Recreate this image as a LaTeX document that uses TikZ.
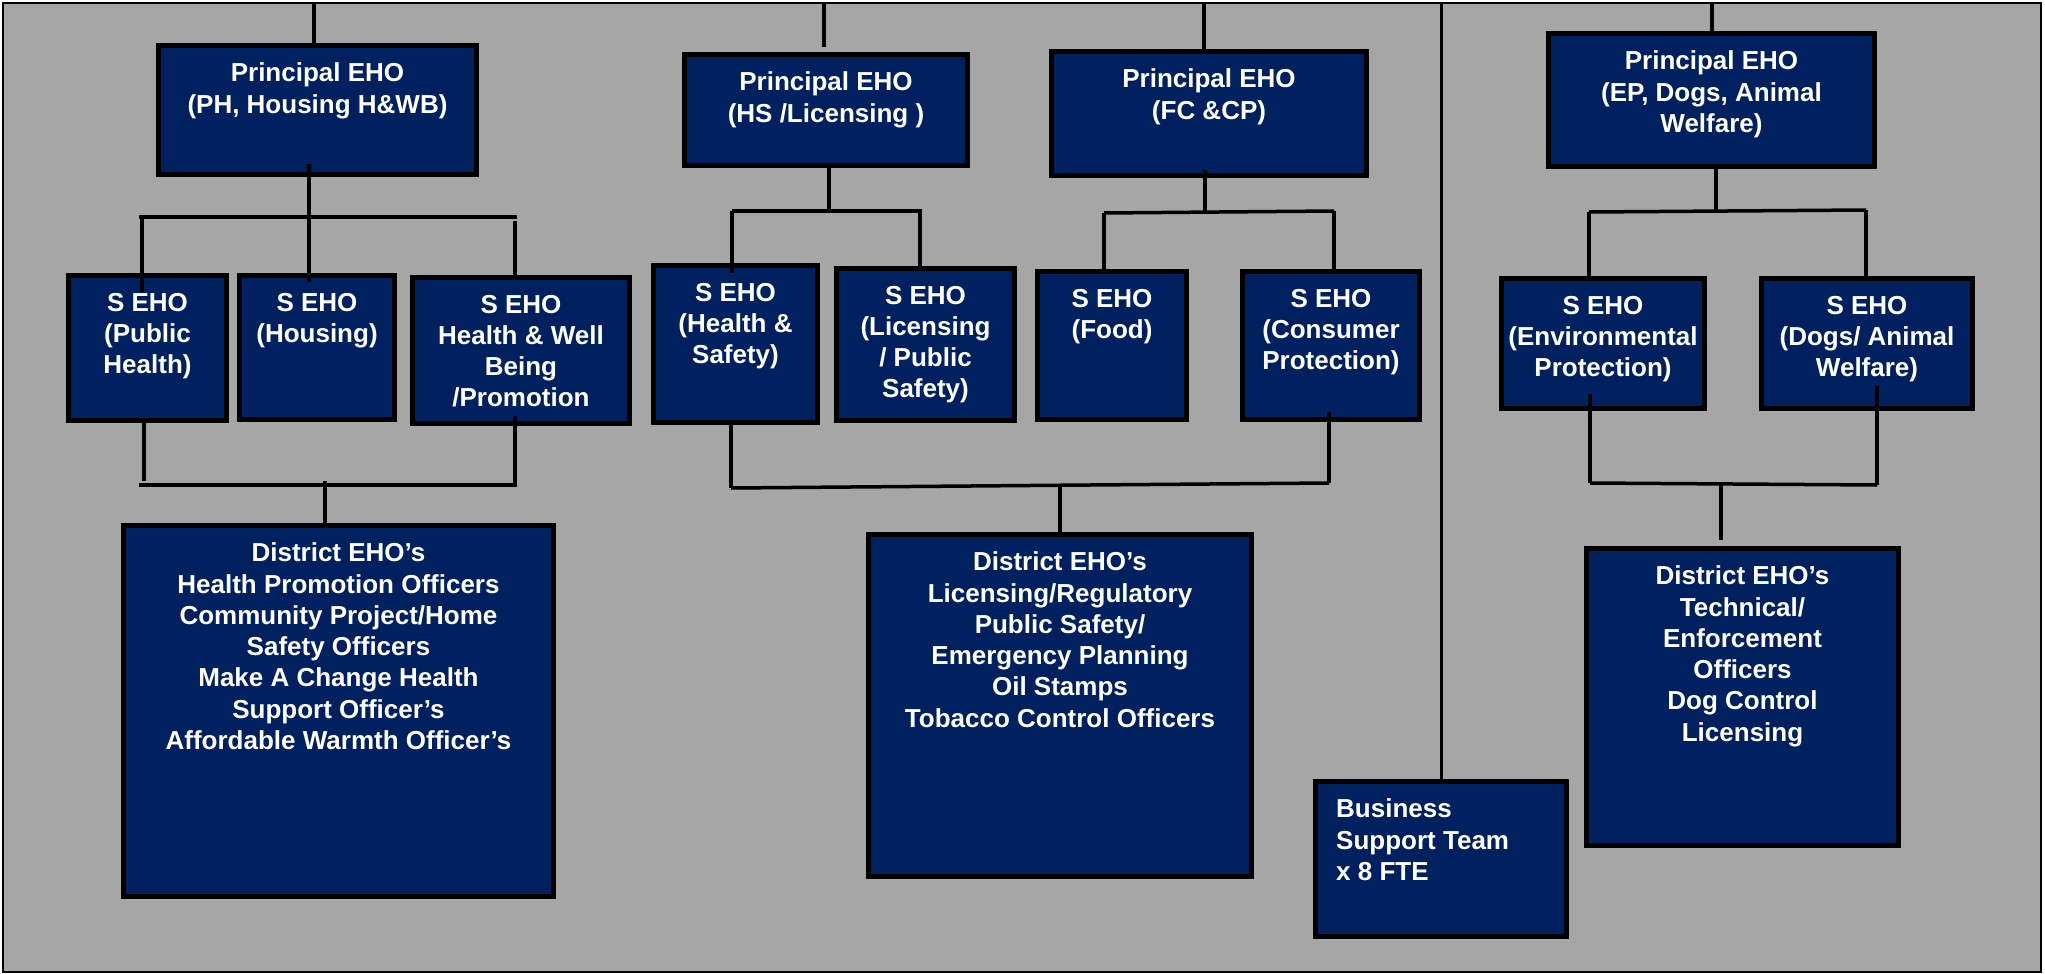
\documentclass[tikz,border=0pt]{standalone}
\usepackage{fontspec}
\setmainfont{Liberation Sans}
\usetikzlibrary{fit,calc}
\definecolor{panel}{HTML}{A6A6A6}
\definecolor{navy}{HTML}{002060}
% box from outer corner (x1,y1) to (x2,y2), border drawn inside
\newcommand\orgbox[5]{\node[box, fit={(#2+2.5,#3+2.5) (#4-2.5,#5-2.5)}] (#1) {};}
\begin{document}
\begin{tikzpicture}[x=1pt,y=-1pt,
  box/.style={draw=black, fill=navy, line width=5pt, inner sep=0pt, outer sep=0pt},
  txt/.style={text=white, font=\bfseries\fontsize{26}{31.3}\selectfont, align=center, inner sep=0pt, anchor=north},
  conn/.style={draw=black, line width=3.5pt}]
\useasboundingbox (0,0) rectangle (2045,974);
\draw[fill=panel, line width=2.5pt] (3,3) rectangle (2041,972);

% principal officers
\orgbox{p1}{156}{43}{479}{177}
\orgbox{p2}{682}{52}{970}{168}
\orgbox{p3}{1049}{49}{1369}{178}
\orgbox{p4}{1546}{31}{1877}{169}
% senior officers
\orgbox{s1}{66}{273}{229}{423}
\orgbox{s2}{237}{273}{397}{422}
\orgbox{s3}{410}{275}{632}{426}
\orgbox{s4}{651}{263}{820}{425}
\orgbox{s5}{834}{266}{1017}{423}
\orgbox{s6}{1035}{269}{1189}{422}
\orgbox{s7}{1240}{269}{1422}{422}
\orgbox{s8}{1499}{276}{1707}{411}
\orgbox{s9}{1759}{276}{1975}{411}
% district teams
\orgbox{d1}{121}{523}{556}{899}
\orgbox{d2}{866}{532}{1254}{879}
\orgbox{d3}{1584}{546}{1901}{848}
\orgbox{bs}{1313}{779}{1569}{939}

\node[txt] (p1t) at ([yshift=-17.2pt]p1.north) {Principal EHO\\(PH, Housing H\&WB)};
\node[txt] (p2t) at ([yshift=-17.2pt]p2.north) {Principal EHO\\(HS /Licensing )};
\node[txt] (p3t) at ([yshift=-17.2pt]p3.north) {Principal EHO\\(FC \&CP)};
\node[txt] (p4t) at ([yshift=-17.2pt]p4.north) {Principal EHO\\(EP, Dogs, Animal\\Welfare)};

\node[txt] (s1t) at ([yshift=-17.2pt]s1.north) {S EHO\\(Public\\Health)};
\node[txt] (s2t) at ([yshift=-17.2pt]s2.north) {S EHO\\(Housing)};
\node[txt] (s3t) at ([yshift=-17.2pt]s3.north) {S EHO\\Health \& Well\\Being\\/Promotion};
\node[txt] (s4t) at ([yshift=-17.2pt]s4.north) {S EHO\\(Health \&\\Safety)};
\node[txt] (s5t) at ([yshift=-17.2pt]s5.north) {S EHO\\(Licensing\\/ Public\\Safety)};
\node[txt] (s6t) at ([yshift=-17.2pt]s6.north) {S EHO\\(Food)};
\node[txt] (s7t) at ([yshift=-17.2pt]s7.north) {S EHO\\(Consumer\\Protection)};
\node[txt] (s8t) at ([yshift=-17.2pt]s8.north) {S EHO\\(Environmental\\Protection)};
\node[txt] (s9t) at ([yshift=-17.2pt]s9.north) {S EHO\\(Dogs/ Animal\\Welfare)};

\node[txt] (d1t) at ([yshift=-17.2pt]d1.north) {District EHO’s\\Health Promotion Officers\\Community Project/Home\\Safety Officers\\Make A Change Health\\Support Officer’s\\Affordable Warmth Officer’s};
\node[txt] (d2t) at ([yshift=-17.2pt]d2.north) {District EHO’s\\Licensing/Regulatory\\Public Safety/\\Emergency Planning\\Oil Stamps\\Tobacco Control Officers};
\node[txt] (d3t) at ([yshift=-17.2pt]d3.north) {District EHO’s\\Technical/\\Enforcement\\Officers\\Dog Control\\Licensing};
\node[txt, align=left, anchor=north west] (bst) at ([xshift=20.5pt,yshift=-17.2pt]bs.north west) {Business\\Support Team\\x 8 FTE};

% lines from the top edge
\coordinate (t1) at (314,3);
\coordinate (t2) at (824,3);
\coordinate (t3) at (1204,3);
\coordinate (t4) at (1712,3);
\coordinate (t5) at (1441,3);
\draw[conn] (t1) -- (p1.north -| t1);
\draw[conn, shorten >=7pt] (t2) -- (p2.north -| t2);
\draw[conn] (t3) -- (p3.north -| t3);
\draw[conn] (t4) -- (p4.north -| t4);
\draw[line width=3pt] (t5) -- (bs.north);

% first group
\coordinate (j1m) at (309,217);
\coordinate (j1l) at (139,217);
\coordinate (j1r) at (517,217);
\coordinate (j1a) at (142,217);
\coordinate (j1b) at (515,221);
\draw[conn, shorten <=-11pt, shorten >=-6pt] (p1.south -| j1m) -- (s2.north -| j1m);
\draw[conn] (j1l) -- (j1r);
\draw[conn, shorten >=-16pt] (j1a) -- (s1.north -| j1a);
\draw[conn] (j1b) -- (s3.north -| j1b);
\coordinate (k1a) at (144,481);
\coordinate (k1b) at (515,485);
\coordinate (k1l) at (139,485);
\coordinate (k1r) at (517,485);
\coordinate (k1m) at (325,481);
\draw[conn] (s1.south -| k1a) -- (k1a);
\draw[conn, shorten <=-8pt] (s3.south -| k1b) -- (k1b);
\draw[conn] (k1l) -- (k1r);
\draw[conn] (k1m) -- (d1.north -| k1m);

% second group
\coordinate (j2m) at (829,211);
\coordinate (j2l) at (732,211);
\coordinate (j2r) at (922,211);
\coordinate (j2b) at (920,211);
\draw[conn, shorten <=-3pt] (p2.south -| j2m) -- (j2m);
\draw[conn] (j2l) -- (j2r);
\draw[conn, shorten >=-7pt] (j2l) -- (s4.north -| j2l);
\draw[conn] (j2b) -- (s5.north -| j2b);

% third group
\coordinate (j3m) at (1205,212);
\coordinate (j3l) at (1104,213);
\coordinate (j3r) at (1334,211);
\draw[conn, shorten <=-6pt] (p3.south -| j3m) -- (j3m);
\draw[conn] (j3l) -- (j3r);
\draw[conn] (j3l) -- (s6.north -| j3l);
\draw[conn] (j3r) -- (s7.north -| j3r);

% district link for groups two and three
\coordinate (k2l) at (731,488);
\coordinate (k2r) at (1329,483);
\coordinate (k2m) at (1060,485);
\draw[conn, shorten <=-3pt] (s4.south -| k2l) -- (k2l);
\draw[conn, shorten <=-8pt] (s7.south -| k2r) -- (k2r);
\draw[conn] (k2l) -- (k2r);
\draw[conn] (k2m) -- (d2.north -| k2m);

% fourth group
\coordinate (j4m) at (1716,211);
\coordinate (j4l) at (1589,212);
\coordinate (j4r) at (1866,210);
\draw[conn] (p4.south -| j4m) -- (j4m);
\draw[conn] (j4l) -- (j4r);
\draw[conn] (j4l) -- (s8.north -| j4l);
\draw[conn] (j4r) -- (s9.north -| j4r);
\coordinate (k3l) at (1590,483);
\coordinate (k3r) at (1877,485);
\coordinate (k3m) at (1721,484);
\draw[conn, shorten <=-15pt] (s8.south -| k3l) -- (k3l);
\draw[conn, shorten <=-23pt] (s9.south -| k3r) -- (k3r);
\draw[conn] (k3l) -- (k3r);
\draw[conn, shorten >=9pt] (k3m) -- (d3.north -| k3m);
\end{tikzpicture}
\end{document}
